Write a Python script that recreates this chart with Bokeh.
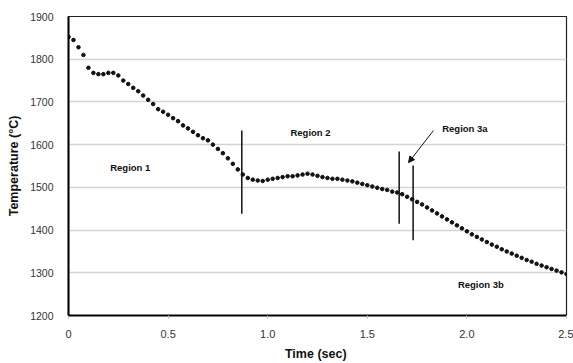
from bokeh.plotting import figure
from bokeh.models import FixedTicker, Arrow, NormalHead, Label
from bokeh.embed import file_html
from bokeh.resources import INLINE

time_s = [0.0, 0.025, 0.05, 0.075, 0.1, 0.125, 0.15, 0.175, 0.2, 0.225,
          0.25, 0.275, 0.3, 0.325, 0.35, 0.375, 0.4, 0.425, 0.45, 0.475,
          0.5, 0.525, 0.55, 0.575, 0.6, 0.625, 0.65, 0.675, 0.7, 0.725,
          0.75, 0.775, 0.8, 0.825, 0.85, 0.875, 0.9, 0.925, 0.95, 0.975,
          1.0, 1.025, 1.05, 1.075, 1.1, 1.125, 1.15, 1.175, 1.2, 1.225,
          1.25, 1.275, 1.3, 1.325, 1.35, 1.375, 1.4, 1.425, 1.45, 1.475,
          1.5, 1.525, 1.55, 1.575, 1.6, 1.625, 1.65, 1.675, 1.7, 1.725,
          1.75, 1.775, 1.8, 1.825, 1.85, 1.875, 1.9, 1.925, 1.95, 1.975,
          2.0, 2.025, 2.05, 2.075, 2.1, 2.125, 2.15, 2.175, 2.2, 2.225,
          2.25, 2.275, 2.3, 2.325, 2.35, 2.375, 2.4, 2.425, 2.45, 2.475, 2.5]
temperature = [1852, 1845, 1828, 1810, 1780, 1768, 1765, 1765, 1768, 1768,
               1762, 1750, 1742, 1733, 1725, 1715, 1705, 1695, 1683, 1677,
               1670, 1662, 1655, 1645, 1638, 1630, 1622, 1615, 1610, 1600,
               1590, 1580, 1568, 1555, 1542, 1530, 1522, 1518, 1516, 1515,
               1518, 1520, 1522, 1524, 1526, 1526, 1528, 1530, 1532, 1530,
               1527, 1524, 1522, 1520, 1520, 1518, 1516, 1514, 1511, 1508,
               1505, 1502, 1499, 1496, 1494, 1490, 1488, 1484, 1478, 1472,
               1466, 1460, 1453, 1446, 1439, 1432, 1425, 1418, 1411, 1404,
               1397, 1390, 1384, 1378, 1372, 1366, 1361, 1355, 1350, 1345,
               1340, 1335, 1330, 1326, 1321, 1317, 1313, 1309, 1305, 1301, 1297]

# region boundary markers: (time, bottom temp, top temp)
boundary_t = [0.87, 1.66, 1.73]
boundary_lo = [1438, 1415, 1376]
boundary_hi = [1633, 1584, 1551]

region_names = ["Region 1", "Region 2", "Region 3a", "Region 3b"]
region_t = [0.31, 1.215, 1.99, 2.07]
region_T = [1547, 1628, 1638, 1273]

x_ticks = [0, 0.5, 1.0, 1.5, 2.0, 2.5]
x_tick_labels = ["0", "0.5", "1.0", "1.5", "2.0", "2.5"]
y_ticks = [1200, 1300, 1400, 1500, 1600, 1700, 1800, 1900]

FONT = "Liberation Sans"

p = figure(width=573, height=363, output_backend="svg", toolbar_location=None,
           x_range=(0, 2.5), y_range=(1200, 1900),
           min_border_left=68, min_border_right=7, min_border_top=16,
           min_border_bottom=48)

p.outline_line_color = "#222222"
p.outline_line_width = 1.2
p.xgrid.grid_line_color = None
p.ygrid.grid_line_color = "#d4d4d4"
p.ygrid.grid_line_width = 1.5

p.xaxis.ticker = FixedTicker(ticks=x_ticks)
p.xaxis.major_label_overrides = {t: l for t, l in zip(x_ticks, x_tick_labels)}
p.yaxis.ticker = FixedTicker(ticks=y_ticks)

for ax in (p.xaxis, p.yaxis):
    ax.axis_line_color = "black"
    ax.axis_line_width = 2
    ax.minor_tick_line_color = None
    ax.major_label_text_font = FONT
    ax.major_label_text_color = "#333333"
    ax.axis_label_text_font = FONT
    ax.axis_label_text_font_size = "12.5px"
    ax.axis_label_text_font_style = "bold"
    ax.axis_label_text_color = "#111111"

p.xaxis.major_label_text_font_size = "11px"
p.yaxis.major_label_text_font_size = "10.5px"

p.xaxis.major_tick_line_color = "#bbbbbb"
p.xaxis.major_tick_out = 3
p.xaxis.major_tick_in = 0
p.xaxis.major_label_standoff = 11
p.xaxis.axis_label = "Time  (sec)"
p.xaxis.axis_label_standoff = 6

p.yaxis.major_tick_line_color = None
p.yaxis.major_tick_out = 0
p.yaxis.major_tick_in = 0
p.yaxis.major_label_standoff = 15
p.yaxis.axis_label = "Temperature (\u00b0C)"
p.yaxis.axis_label_standoff = 6

p.scatter(time_s, temperature, size=3.6, color="#111111")

p.segment(x0=boundary_t, y0=boundary_lo, x1=boundary_t, y1=boundary_hi,
          line_color="#111111", line_width=1.5)

p.add_layout(Arrow(end=NormalHead(size=6, fill_color="#111111", line_color="#111111"),
                   x_start=1.832, y_start=1633, x_end=1.707, y_end=1558,
                   line_color="#111111", line_width=1))

for name, t, T in zip(region_names, region_t, region_T):
    p.add_layout(Label(x=t, y=T, text=name, text_font=FONT, text_font_size="9.5px",
                       text_font_style="bold", text_color="#111111",
                       text_align="center", text_baseline="middle"))

open("out.html", "w").write(file_html(p, INLINE))
